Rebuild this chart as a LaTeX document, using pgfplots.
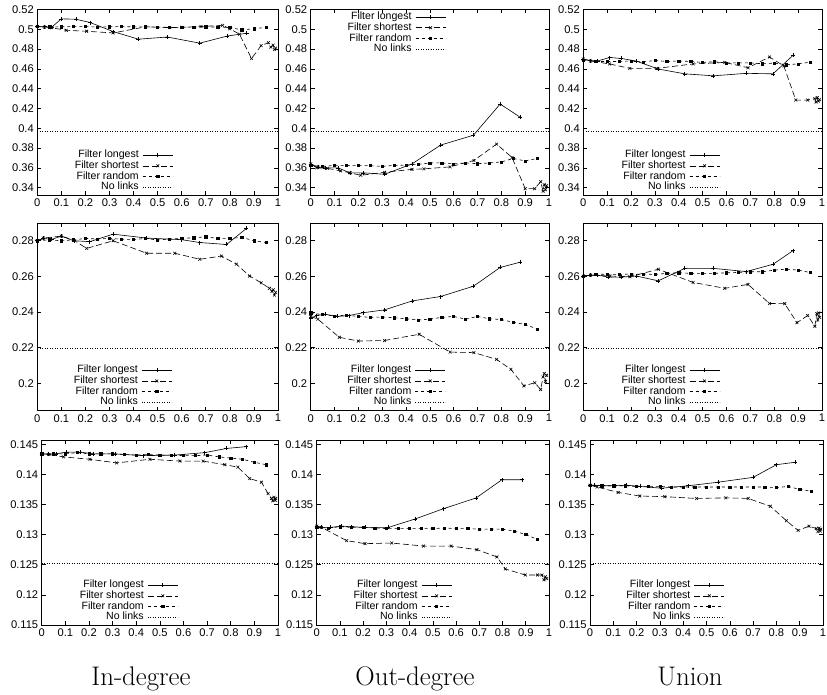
\documentclass[border=0pt]{standalone}
\usepackage{pgfplots}
\pgfplotsset{compat=1.18}
\usepackage{fontspec}
\setsansfont{Liberation Sans}
\pgfplotsset{
  gp/.style={
    scale only axis, anchor=south west,
    xmin=0, xmax=1,
    xtick={0,0.1,0.2,0.3,0.4,0.5,0.6,0.7,0.8,0.9,1},
    tick align=inside, major tick length=4bp, minor tick num=0,
    tick style={black, line width=0.6bp},
    axis line style={line width=0.8bp},
    ticklabel style={font=\sffamily\fontsize{11.2}{13}\selectfont},
    /pgf/number format/assume math mode=true,
    xticklabel style={/pgf/number format/fixed, /pgf/number format/precision=1},
    yticklabel style={/pgf/number format/fixed, /pgf/number format/precision=3},
    scaled ticks=false,
    legend cell align=right, legend plot pos=right,
    legend style={draw=none, fill=none, inner sep=0pt, row sep=0pt, column sep=3bp,
      font=\sffamily\fontsize{10.6}{10.6}\selectfont,
      nodes={inner sep=0.7bp, text height=7.3bp, text depth=2bp}},
    legend image code/.code={\draw[mark repeat=2,mark phase=2,##1] plot coordinates {(0bp,0bp) (15bp,0bp) (30bp,0bp)};},
  },
  r1/.style={gp, height=185.5bp, ymin=0.3326, ymax=0.52, ytick={0.34,0.36,0.38,0.4,0.42,0.44,0.46,0.48,0.5,0.52}},
  r2/.style={gp, height=187.4bp, ymin=0.1846, ymax=0.2898, ytick={0.2,0.22,0.24,0.26,0.28}},
  r3/.style={gp, height=185bp, ymin=0.115, ymax=0.1457, ytick={0.115,0.12,0.125,0.13,0.135,0.14,0.145}},
  longest/.style={black, line width=0.6bp, solid, mark=+, mark size=2bp, mark options={solid}},
  shortest/.style={black, line width=0.6bp, dash pattern=on 6bp off 3bp, mark=x, mark size=2bp, mark options={solid}},
  random/.style={black, line width=0.6bp, dash pattern=on 3bp off 3bp, mark=square*, mark size=1.1bp, mark options={solid}},
  nolinks/.style={black, line width=0.6bp, dash pattern=on 1bp off 1.5bp, mark=none},
}
\begin{document}
\begin{tikzpicture}
\path[use as bounding box] (0bp,0bp) rectangle (827bp,695bp);

% ---------------- Row 1 ----------------
\begin{axis}[r1, at={(37.3bp,500bp)}, width=240.7bp,
  legend style={at={(0.565,0.012)}, anchor=south east}]
\addplot[longest] coordinates {(0,0.5027) (0.03,0.5027) (0.06,0.5022) (0.10,0.5105) (0.16,0.5102) (0.22,0.5068) (0.315,0.4977) (0.42,0.4900) (0.54,0.4922) (0.675,0.4860) (0.79,0.4932) (0.87,0.4960)};
\addplot[shortest] coordinates {(0,0.5027) (0.03,0.5022) (0.06,0.5015) (0.12,0.4990) (0.205,0.4980) (0.315,0.4963) (0.45,0.5025) (0.55,0.5017) (0.6,0.5020) (0.68,0.5028) (0.77,0.5040) (0.8,0.5005) (0.84,0.4950) (0.89,0.4705) (0.93,0.4835) (0.96,0.4865) (0.97,0.4820) (0.98,0.4840) (0.985,0.4795) (0.99,0.4810)};
\addplot[random] coordinates {(0,0.5027) (0.05,0.5025) (0.1,0.5025) (0.15,0.5027) (0.2,0.5027) (0.25,0.5023) (0.3,0.5025) (0.35,0.5027) (0.4,0.5025) (0.45,0.5025) (0.5,0.5022) (0.55,0.5020) (0.6,0.5020) (0.65,0.5023) (0.7,0.5025) (0.75,0.5022) (0.8,0.5017) (0.85,0.4995) (0.9,0.5005) (0.95,0.5020)};
\addplot[nolinks] coordinates {(0,0.3965) (1,0.3965)};
\legend{Filter longest, Filter shortest, Filter random, No links}
\end{axis}

\begin{axis}[r1, at={(310.7bp,500bp)}, width=238.3bp,
  legend style={at={(0.568,0.989)}, anchor=north east}]
\addplot[longest] coordinates {(0,0.3640) (0.03,0.3610) (0.06,0.3600) (0.115,0.3600) (0.165,0.3550) (0.22,0.3550) (0.31,0.3535) (0.425,0.3640) (0.545,0.3830) (0.683,0.3930) (0.795,0.4245) (0.88,0.4110)};
\addplot[shortest] coordinates {(0,0.3640) (0.025,0.3600) (0.07,0.3595) (0.125,0.3570) (0.165,0.3550) (0.21,0.3525) (0.31,0.3555) (0.425,0.3585) (0.475,0.3590) (0.585,0.3610) (0.685,0.3675) (0.78,0.3840) (0.845,0.3705) (0.9,0.3390) (0.94,0.3390) (0.965,0.3460) (0.975,0.3365) (0.98,0.3430) (0.985,0.3380) (0.99,0.3420)};
\addplot[random] coordinates {(0,0.3630) (0.05,0.3615) (0.1,0.3625) (0.15,0.3625) (0.2,0.3622) (0.25,0.3622) (0.3,0.3615) (0.35,0.3625) (0.4,0.3628) (0.45,0.3635) (0.5,0.3650) (0.55,0.3650) (0.6,0.3640) (0.65,0.3650) (0.7,0.3642) (0.75,0.3650) (0.8,0.3660) (0.85,0.3695) (0.9,0.3670) (0.95,0.3695)};
\addplot[nolinks] coordinates {(0,0.3965) (1,0.3965)};
\legend{Filter longest, Filter shortest, Filter random, No links}
\end{axis}

\begin{axis}[r1, at={(583.3bp,500bp)}, width=238.7bp,
  legend style={at={(0.573,0.012)}, anchor=south east}]
\addplot[longest] coordinates {(0,0.4700) (0.03,0.4683) (0.06,0.4680) (0.11,0.4715) (0.16,0.4705) (0.22,0.4680) (0.315,0.4598) (0.425,0.4550) (0.545,0.4530) (0.683,0.4555) (0.795,0.4550) (0.88,0.4740)};
\addplot[shortest] coordinates {(0,0.4700) (0.03,0.4680) (0.11,0.4650) (0.195,0.4605) (0.307,0.4605) (0.46,0.4650) (0.593,0.4665) (0.69,0.4612) (0.78,0.4720) (0.84,0.4630) (0.89,0.4285) (0.94,0.4285) (0.97,0.4300) (0.975,0.4265) (0.98,0.4310) (0.985,0.4275) (0.99,0.4290)};
\addplot[random] coordinates {(0,0.4690) (0.05,0.4675) (0.1,0.4675) (0.15,0.4675) (0.2,0.4680) (0.25,0.4670) (0.3,0.4685) (0.35,0.4675) (0.4,0.4680) (0.45,0.4675) (0.5,0.4665) (0.55,0.4672) (0.6,0.4660) (0.65,0.4660) (0.7,0.4660) (0.75,0.4652) (0.8,0.4658) (0.85,0.4642) (0.9,0.4650) (0.95,0.4668)};
\addplot[nolinks] coordinates {(0,0.3965) (1,0.3965)};
\legend{Filter longest, Filter shortest, Filter random, No links}
\end{axis}

% ---------------- Row 2 ----------------
\begin{axis}[r2, at={(37.3bp,284.3bp)}, width=240.7bp,
  legend style={at={(0.561,0.015)}, anchor=south east}]
\addplot[longest] coordinates {(0,0.2800) (0.025,0.2813) (0.06,0.2808) (0.10,0.2826) (0.152,0.2800) (0.218,0.2795) (0.315,0.2837) (0.454,0.2815) (0.6,0.2806) (0.675,0.2790) (0.786,0.2779) (0.869,0.2869)};
\addplot[shortest] coordinates {(0,0.2800) (0.025,0.2815) (0.1,0.2826) (0.15,0.2805) (0.205,0.2757) (0.315,0.2800) (0.454,0.2730) (0.571,0.2730) (0.675,0.2696) (0.765,0.2714) (0.827,0.2669) (0.882,0.2602) (0.93,0.2564) (0.965,0.2533) (0.975,0.2515) (0.98,0.2525) (0.985,0.2495) (0.99,0.2510)};
\addplot[random] coordinates {(0,0.2800) (0.05,0.2805) (0.1,0.2800) (0.15,0.2805) (0.2,0.2813) (0.25,0.2810) (0.3,0.2813) (0.35,0.2809) (0.4,0.2807) (0.45,0.2813) (0.5,0.2804) (0.55,0.2810) (0.6,0.2813) (0.65,0.2817) (0.7,0.2822) (0.75,0.2813) (0.8,0.2813) (0.85,0.2819) (0.9,0.2800) (0.95,0.2790)};
\addplot[nolinks] coordinates {(0,0.2194) (1,0.2194)};
\legend{Filter longest, Filter shortest, Filter random, No links}
\end{axis}

\begin{axis}[r2, at={(310.7bp,284.3bp)}, width=238.3bp,
  legend style={at={(0.567,0.015)}, anchor=south east}]
\addplot[longest] coordinates {(0,0.2365) (0.025,0.2380) (0.06,0.2388) (0.11,0.2375) (0.16,0.2380) (0.22,0.2396) (0.31,0.2412) (0.425,0.2462) (0.545,0.2487) (0.683,0.2545) (0.795,0.2650) (0.88,0.2680)};
\addplot[shortest] coordinates {(0,0.2375) (0.03,0.2360) (0.12,0.2258) (0.2,0.2237) (0.31,0.2240) (0.455,0.2275) (0.585,0.2175) (0.685,0.2172) (0.78,0.2134) (0.84,0.2078) (0.895,0.1985) (0.94,0.2003) (0.965,0.1965) (0.975,0.2035) (0.98,0.2055) (0.985,0.2010) (0.99,0.2045)};
\addplot[random] coordinates {(0,0.2395) (0.05,0.2385) (0.1,0.2378) (0.15,0.2382) (0.2,0.2375) (0.25,0.2370) (0.3,0.2372) (0.35,0.2368) (0.4,0.2362) (0.45,0.2355) (0.5,0.2360) (0.55,0.2370) (0.6,0.2375) (0.65,0.2360) (0.7,0.2375) (0.75,0.2362) (0.8,0.2358) (0.85,0.2342) (0.9,0.2330) (0.95,0.2305)};
\addplot[nolinks] coordinates {(0,0.2194) (1,0.2194)};
\legend{Filter longest, Filter shortest, Filter random, No links}
\end{axis}

\begin{axis}[r2, at={(583.3bp,284.3bp)}, width=238.7bp,
  legend style={at={(0.573,0.015)}, anchor=south east}]
\addplot[longest] coordinates {(0,0.2602) (0.03,0.2607) (0.06,0.2607) (0.105,0.2596) (0.16,0.2596) (0.223,0.2602) (0.314,0.2575) (0.425,0.2645) (0.544,0.2645) (0.683,0.2627) (0.795,0.2668) (0.879,0.2745)};
\addplot[shortest] coordinates {(0,0.2602) (0.03,0.2607) (0.112,0.2602) (0.195,0.2598) (0.314,0.2640) (0.46,0.2566) (0.593,0.2533) (0.69,0.2555) (0.78,0.2448) (0.844,0.2447) (0.895,0.2340) (0.94,0.2380) (0.97,0.2320) (0.978,0.2390) (0.982,0.2355) (0.986,0.2395) (0.99,0.2370)};
\addplot[random] coordinates {(0,0.2602) (0.05,0.2613) (0.1,0.2611) (0.15,0.2611) (0.2,0.2613) (0.25,0.2613) (0.3,0.2611) (0.35,0.2617) (0.4,0.2620) (0.45,0.2617) (0.5,0.2617) (0.55,0.2617) (0.6,0.2620) (0.65,0.2622) (0.7,0.2626) (0.75,0.2626) (0.8,0.2635) (0.85,0.2641) (0.9,0.2635) (0.95,0.2622)};
\addplot[nolinks] coordinates {(0,0.2194) (1,0.2194)};
\legend{Filter longest, Filter shortest, Filter random, No links}
\end{axis}

% ---------------- Row 3 ----------------
\begin{axis}[r3, at={(41.7bp,70bp)}, width=236.3bp,
  legend style={at={(0.578,0.012)}, anchor=south east}]
\addplot[longest] coordinates {(0,0.1434) (0.03,0.1434) (0.06,0.1434) (0.106,0.1437) (0.162,0.1437) (0.218,0.1434) (0.31,0.1434) (0.43,0.1431) (0.563,0.1432) (0.69,0.1436) (0.782,0.1443) (0.866,0.1446)};
\addplot[shortest] coordinates {(0,0.1434) (0.03,0.1433) (0.092,0.1429) (0.204,0.1425) (0.317,0.1419) (0.458,0.1425) (0.585,0.1422) (0.683,0.1422) (0.775,0.1416) (0.83,0.1412) (0.88,0.1393) (0.93,0.1387) (0.958,0.1368) (0.972,0.1360) (0.978,0.1356) (0.983,0.1362) (0.988,0.1357) (0.99,0.1360)};
\addplot[random] coordinates {(0,0.1434) (0.05,0.1434) (0.1,0.1434) (0.15,0.1436) (0.2,0.1434) (0.25,0.1434) (0.3,0.1434) (0.35,0.1433) (0.4,0.1432) (0.45,0.1433) (0.5,0.1432) (0.55,0.1432) (0.6,0.1431) (0.65,0.1431) (0.7,0.1432) (0.75,0.1429) (0.8,0.1427) (0.85,0.1425) (0.9,0.1420) (0.95,0.1416)};
\addplot[nolinks] coordinates {(0,0.1253) (1,0.1253)};
\legend{Filter longest, Filter shortest, Filter random, No links}
\end{axis}

\begin{axis}[r3, at={(316.7bp,70bp)}, width=232.3bp,
  legend style={at={(0.583,0.012)}, anchor=south east}]
\addplot[longest] coordinates {(0,0.1314) (0.02,0.1312) (0.06,0.1312) (0.108,0.1314) (0.151,0.1313) (0.208,0.1312) (0.309,0.1312) (0.424,0.1326) (0.546,0.1343) (0.687,0.1361) (0.797,0.1391) (0.884,0.1391)};
\addplot[shortest] coordinates {(0,0.1314) (0.02,0.1312) (0.129,0.1290) (0.208,0.1285) (0.323,0.1286) (0.46,0.1281) (0.579,0.1281) (0.69,0.1275) (0.776,0.1263) (0.812,0.1243) (0.898,0.1233) (0.95,0.1233) (0.97,0.1233) (0.978,0.1225) (0.984,0.1230) (0.99,0.1227)};
\addplot[random] coordinates {(0,0.1312) (0.05,0.1311) (0.1,0.1313) (0.15,0.1312) (0.2,0.1312) (0.25,0.1311) (0.3,0.1310) (0.35,0.1310) (0.4,0.1310) (0.45,0.1310) (0.5,0.1310) (0.55,0.1311) (0.6,0.1310) (0.65,0.1310) (0.7,0.1309) (0.75,0.1309) (0.8,0.1309) (0.85,0.1306) (0.9,0.1300) (0.95,0.1292)};
\addplot[nolinks] coordinates {(0,0.1253) (1,0.1253)};
\legend{Filter longest, Filter shortest, Filter random, No links}
\end{axis}

\begin{axis}[r3, at={(590bp,70bp)}, width=233bp,
  legend style={at={(0.579,0.012)}, anchor=south east}]
\addplot[longest] coordinates {(0,0.1382) (0.02,0.1382) (0.057,0.1381) (0.107,0.1381) (0.157,0.1382) (0.214,0.1380) (0.307,0.1377) (0.421,0.1381) (0.55,0.1387) (0.7,0.1395) (0.8,0.1416) (0.879,0.1420)};
\addplot[shortest] coordinates {(0,0.1382) (0.03,0.1379) (0.121,0.1370) (0.214,0.1364) (0.321,0.1363) (0.457,0.1360) (0.583,0.1361) (0.679,0.1360) (0.774,0.1347) (0.843,0.1323) (0.893,0.1307) (0.94,0.1314) (0.971,0.1310) (0.978,0.1305) (0.983,0.1311) (0.988,0.1306) (0.99,0.1309)};
\addplot[random] coordinates {(0,0.1382) (0.05,0.1381) (0.1,0.1381) (0.15,0.1381) (0.2,0.1380) (0.25,0.1380) (0.3,0.1380) (0.35,0.1379) (0.4,0.1379) (0.45,0.1379) (0.5,0.1379) (0.55,0.1379) (0.6,0.1379) (0.65,0.1379) (0.7,0.1379) (0.75,0.1379) (0.8,0.1378) (0.85,0.1380) (0.9,0.1375) (0.95,0.1372)};
\addplot[nolinks] coordinates {(0,0.1253) (1,0.1253)};
\legend{Filter longest, Filter shortest, Filter random, No links}
\end{axis}

% ---------------- Column titles ----------------
\node[anchor=base, inner sep=0pt, font=\fontsize{27}{30}\selectfont] at (141bp,10bp) {In-degree};
\node[anchor=base, inner sep=0pt, font=\fontsize{27}{30}\selectfont] at (415bp,10bp) {Out-degree};
\node[anchor=base, inner sep=0pt, font=\fontsize{27}{30}\selectfont] at (690bp,10bp) {Union};
\end{tikzpicture}
\end{document}
